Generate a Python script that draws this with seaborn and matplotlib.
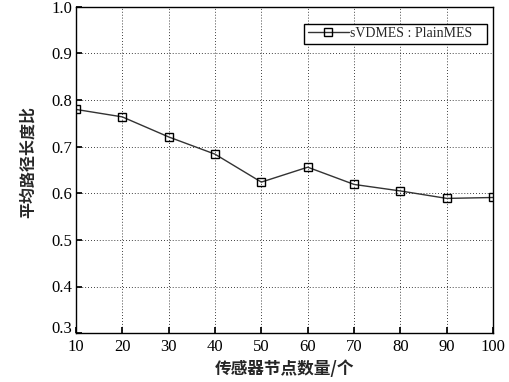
import matplotlib
matplotlib.use("Agg")
import matplotlib.pyplot as plt
import seaborn as sns
import pandas as pd

nodes = [10, 20, 30, 40, 50, 60, 70, 80, 90, 100]
ratio = [0.780, 0.764, 0.721, 0.684, 0.624, 0.656, 0.619, 0.605, 0.589, 0.591]
series_name = "sVDMES : PlainMES"
xlabel = "传感器节点数量/个"
ylabel = "平均路径长度比"
yticks = [0.3, 0.4, 0.5, 0.6, 0.7, 0.8, 0.9, 1.0]

sns.set_theme(style="ticks")
plt.rcParams['font.family'] = ['Liberation Serif', 'Noto Sans CJK SC']

df = pd.DataFrame({"nodes": nodes, "ratio": ratio, "series": series_name})

fig = plt.figure(figsize=(5.09, 3.82), dpi=100)
ax = fig.add_axes([0.149, 0.128, 0.820, 0.854])

sns.lineplot(data=df, x="nodes", y="ratio", hue="series", palette=["#333333"],
             marker="s", markersize=6, markerfacecolor="none", markeredgecolor="black",
             markeredgewidth=1.0, linewidth=1.0, ax=ax)

ax.set_xlim(10, 100)
ax.set_ylim(0.3, 1.0)
ax.set_xticks(nodes)
ax.set_yticks(yticks)
ax.set_yticklabels([f"{v:.1f}" for v in yticks])
ax.grid(True, linestyle=(0, (1, 2.5)), color="black", linewidth=0.6)
ax.tick_params(direction="in", labelsize=12, colors="black", length=4)
ax.tick_params(axis="y", pad=2.5)
ax.tick_params(axis="x", pad=4)
ax.get_yticklabels()[0].set_va("baseline")
for s in ax.spines.values():
    s.set_color("black")
    s.set_linewidth(1.0)

ax.set_xlabel(xlabel, fontsize=12, fontweight="bold", family=['Noto Sans CJK SC'], labelpad=4)
ax.set_ylabel(ylabel, fontsize=11.5, fontweight="bold", family=['Noto Sans CJK SC'])
ax.yaxis.set_label_coords(-0.097, 0.525)

leg = ax.legend(loc="upper left", bbox_to_anchor=(0.547, 0.0, 0.439, 0.948), mode="expand",
                fontsize=10, fancybox=False, edgecolor="black", framealpha=1,
                handlelength=3.0, borderpad=0.25, handletextpad=0.07, borderaxespad=0)
leg.get_frame().set_linewidth(1.0)

fig.savefig("out.png", dpi=100)
